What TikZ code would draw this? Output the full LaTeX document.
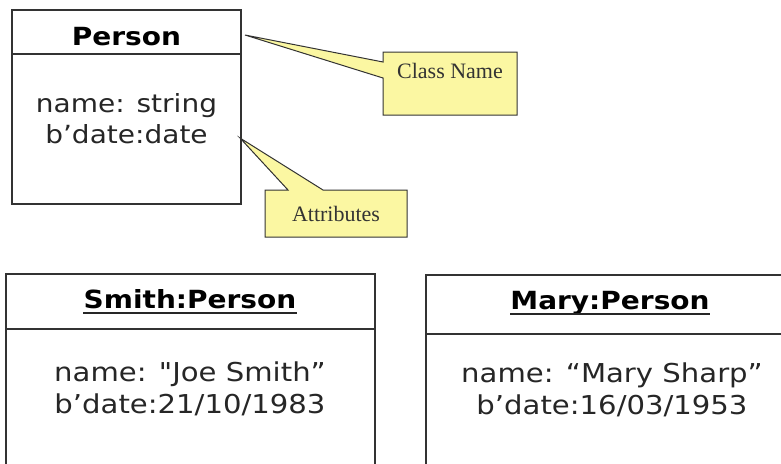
\documentclass[tikz,border=0pt]{standalone}
\usepackage{fontspec}
\setmainfont{DejaVu Sans}[FakeStretch=1.12, Ligatures=TeXOff]
\newfontfamily\callfont{Liberation Serif}
\usetikzlibrary{calc}
\definecolor{note}{HTML}{FBF7A2}
\definecolor{edge}{HTML}{333333}
\tikzset{
  umlbox/.style={draw=edge, line width=1.4pt, inner sep=0pt, outer sep=0pt, anchor=north west},
  divider/.style={draw=edge, line width=1.4pt},
  callout/.style={draw=edge, fill=note, line width=1pt, line join=miter},
  txt/.style={anchor=base, inner sep=0pt, text=black!85},
  titletxt/.style={txt, text=black, font=\fontsize{25}{30}\selectfont\bfseries},
  attrtxt/.style={txt, font=\fontsize{25}{30}\selectfont},
  insttxt/.style={txt, font=\fontsize{26}{31}\selectfont},
  notetxt/.style={txt, text=black!80, font=\callfont\fontsize{22}{26}\selectfont},
  uline/.style={draw=black!85, line width=1.3pt}
}
\begin{document}
\begin{tikzpicture}[x=1pt,y=-1pt]
\useasboundingbox (0,0) rectangle (781,463);
\clip (0,0) rectangle (781,463);

% ---- class Person
\node[umlbox, minimum width=229pt, minimum height=194pt] (person) at (12,10) {};
\coordinate (pdiv) at (0,54);
\draw[divider] (person.west |- pdiv) -- (person.east |- pdiv);
\node[titletxt] (ptitle) at (126.5,45) {Person};
\node[attrtxt] (pa1) at (126.5,112) {name: string};
\node[attrtxt] (pa2) at (126.5,143) {b’date:date};

% ---- callout Class Name
\coordinate (cnTip) at (245,35);
\coordinate (cnNW) at (383,52);
\coordinate (cnSE) at (517,115);
\coordinate (cnA) at (383,62);
\coordinate (cnB) at (383,78);
\draw[callout] (cnTip) -- (cnA) -- (cnNW) -- (cnSE |- cnNW) -- (cnSE) -- (cnNW |- cnSE) -- (cnB) -- cycle;
\node[notetxt] (cn) at (450,78) {Class Name};

% ---- callout Attributes
\coordinate (atTip) at (240,138);
\coordinate (atNW) at (265,190);
\coordinate (atSE) at (407,237);
\coordinate (atA) at (288,190);
\coordinate (atB) at (323,190);
\draw[callout] (atTip) -- (atB) -- (atSE |- atNW) -- (atSE) -- (atNW |- atSE) -- (atNW) -- (atA) -- cycle;
\node[notetxt] (at) at (336,221) {Attributes};

% ---- object Smith
\node[umlbox, minimum width=369pt, minimum height=200pt] (smith) at (6,274) {};
\coordinate (sdiv) at (0,329);
\draw[divider] (smith.west |- sdiv) -- (smith.east |- sdiv);
\node[titletxt] (stitle) at (190,308) {Smith:Person};
\draw[uline] ([yshift=-5pt]stitle.base west) -- ([yshift=-5pt]stitle.base east);
\node[insttxt] (sa1) at (190,381) {name: "Joe Smith”};
\node[insttxt] (sa2) at (190,413) {b’date:21/10/1983};

% ---- object Mary
\node[umlbox, minimum width=372pt, minimum height=200pt] (mary) at (426,275) {};
\coordinate (mdiv) at (0,334);
\draw[divider] (mary.west |- mdiv) -- (mary.east |- mdiv);
\node[titletxt] (mtitle) at (610,309) {Mary:Person};
\draw[uline] ([yshift=-5pt]mtitle.base west) -- ([yshift=-5pt]mtitle.base east);
\node[insttxt] (ma1) at (612,382) {name: “Mary Sharp”};
\node[insttxt] (ma2) at (612,414) {b’date:16/03/1953};
\end{tikzpicture}
\end{document}
